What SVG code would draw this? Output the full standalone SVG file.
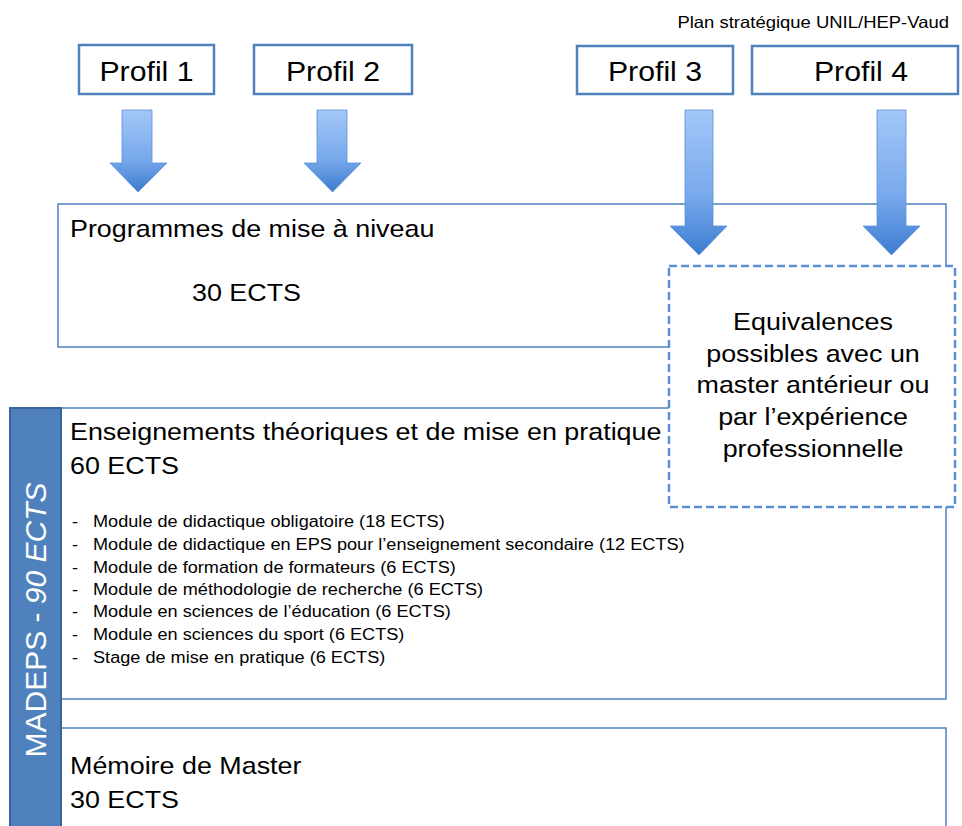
<svg xmlns="http://www.w3.org/2000/svg" width="962" height="826" viewBox="0 0 962 826">
<style>
text{font-family:"Liberation Sans",Arial,sans-serif;fill:#000}
.pbox{fill:#fff;stroke:#4F81BD;stroke-width:2.5}
.blk{fill:#fff;stroke:#4F81BD;stroke-width:1.5}
.dash{fill:#fff;stroke:#5B8ED6;stroke-width:2.5;stroke-dasharray:8 4}
.arrow{fill:url(#ag);stroke:#5A8FD6;stroke-width:0.8}
.p{font-size:27px;text-anchor:middle}
.h{font-size:24px}
.li{font-size:16.2px}
.eq{font-size:24px;text-anchor:middle}
</style>
<defs>
<linearGradient id="ag" x1="0" y1="0" x2="0" y2="1">
<stop offset="0" stop-color="#A3C7F8"/>
<stop offset="0.6" stop-color="#77A9EC"/>
<stop offset="1" stop-color="#3C7BCF"/>
</linearGradient>
</defs>
<text transform="translate(949,28) scale(1.12,1)" style="font-size:16.5px" text-anchor="end">Plan stratégique UNIL/HEP-Vaud</text>

<g id="blocks">
<g id="programmes">
<rect class="blk" x="58" y="204" width="888" height="143"/>
<text class="h" transform="translate(70,237) scale(1.12,1)">Programmes de mise à niveau</text>
<text class="h" transform="translate(192,301) scale(1.12,1)">30 ECTS</text>
</g>
<g id="enseignements">
<rect class="blk" x="61" y="408" width="885" height="291"/>
<text class="h" transform="translate(70,440) scale(1.12,1)">Enseignements théoriques et de mise en pratique</text>
<text class="h" transform="translate(70,474) scale(1.12,1)">60 ECTS</text>
<text class="li" transform="translate(72,527) scale(1.12,1)">-</text><text class="li" transform="translate(93,527) scale(1.12,1)">Module de didactique obligatoire (18 ECTS)</text>
<text class="li" transform="translate(72,550) scale(1.12,1)">-</text><text class="li" transform="translate(93,550) scale(1.12,1)">Module de didactique en EPS pour l’enseignement secondaire (12 ECTS)</text>
<text class="li" transform="translate(72,573) scale(1.12,1)">-</text><text class="li" transform="translate(93,573) scale(1.12,1)">Module de formation de formateurs (6 ECTS)</text>
<text class="li" transform="translate(72,595) scale(1.12,1)">-</text><text class="li" transform="translate(93,595) scale(1.12,1)">Module de méthodologie de recherche (6 ECTS)</text>
<text class="li" transform="translate(72,617) scale(1.12,1)">-</text><text class="li" transform="translate(93,617) scale(1.12,1)">Module en sciences de l’éducation (6 ECTS)</text>
<text class="li" transform="translate(72,640) scale(1.12,1)">-</text><text class="li" transform="translate(93,640) scale(1.12,1)">Module en sciences du sport (6 ECTS)</text>
<text class="li" transform="translate(72,663) scale(1.12,1)">-</text><text class="li" transform="translate(93,663) scale(1.12,1)">Stage de mise en pratique (6 ECTS)</text>
</g>
<g id="memoire">
<rect class="blk" x="61" y="728" width="885" height="110"/>
<text class="h" transform="translate(70,774) scale(1.12,1)">Mémoire de Master</text>
<text class="h" transform="translate(70,808) scale(1.12,1)">30 ECTS</text>
</g>
<g id="madeps">
<rect x="10" y="408" width="51" height="430" fill="#4F81BD" stroke="#3A6497" stroke-width="2"/>
<text transform="translate(46,620) rotate(-90)" text-anchor="middle" style="font-size:30px;fill:#fff">MADEPS - <tspan font-style="italic">90 ECTS</tspan></text>
</g>
</g>

<g id="profil1"><rect class="pbox" x="79" y="45" width="135" height="49"/><text class="p" transform="translate(146.5,81) scale(1.12,1)">Profil 1</text></g>
<g id="profil2"><rect class="pbox" x="254" y="45" width="158" height="49"/><text class="p" transform="translate(333,81) scale(1.12,1)">Profil 2</text></g>
<g id="profil3"><rect class="pbox" x="577" y="46" width="156" height="48"/><text class="p" transform="translate(655,81) scale(1.12,1)">Profil 3</text></g>
<g id="profil4"><rect class="pbox" x="752" y="46" width="206" height="48"/><text class="p" transform="translate(861,81) scale(1.12,1)">Profil 4</text></g>

<g id="connectors">
<path class="arrow" d="M122,110 H152 V163 H167 L138,192 L110,163 H122 Z"/>
<path class="arrow" d="M317,110 H347 V163 H361 L332.5,192 L304,163 H317 Z"/>
<path class="arrow" d="M685,110 H713 V226 H727 L699,255 L670,226 H685 Z"/>
<path class="arrow" d="M877,110 H906 V226 H920 L891.5,255 L863,226 H877 Z"/>
</g>

<g id="equivalences">
<rect class="dash" x="669" y="266" width="286" height="241"/>
<text class="eq" transform="translate(813,330) scale(1.12,1)">Equivalences</text>
<text class="eq" transform="translate(813,362) scale(1.12,1)">possibles avec un</text>
<text class="eq" transform="translate(813,393) scale(1.12,1)">master antérieur ou</text>
<text class="eq" transform="translate(813,425) scale(1.12,1)">par l’expérience</text>
<text class="eq" transform="translate(813,457) scale(1.12,1)">professionnelle</text>
</g>
</svg>
